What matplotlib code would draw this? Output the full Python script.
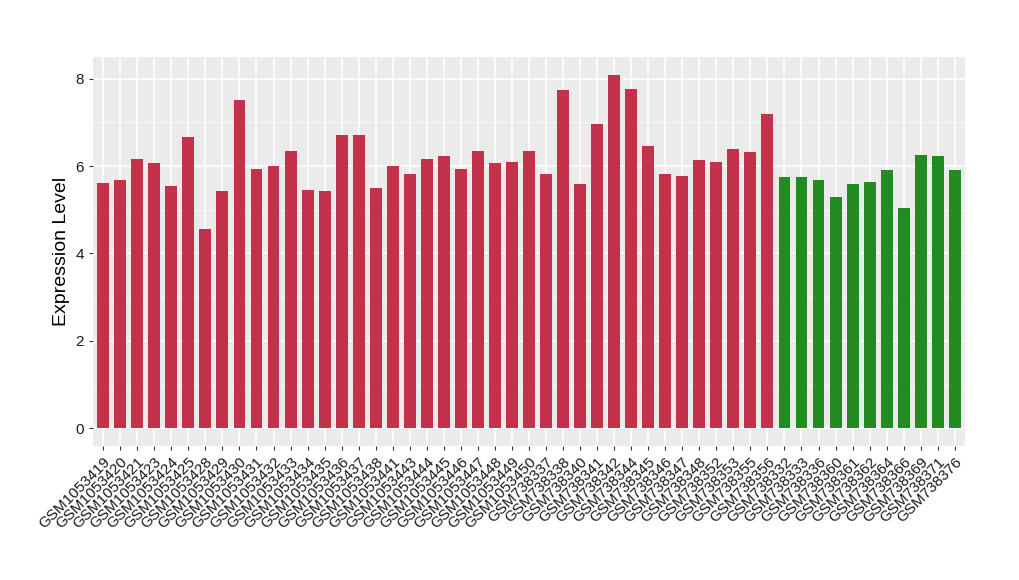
import matplotlib
matplotlib.use('Agg')
from matplotlib import pyplot as plt

plt.rcParams['font.family'] = ['Liberation Sans', 'DejaVu Sans']

red_samples = ['GSM1053419', 'GSM1053420', 'GSM1053421', 'GSM1053423', 'GSM1053424',
               'GSM1053425', 'GSM1053428', 'GSM1053429', 'GSM1053430', 'GSM1053431',
               'GSM1053432', 'GSM1053433', 'GSM1053434', 'GSM1053435', 'GSM1053436',
               'GSM1053437', 'GSM1053438', 'GSM1053441', 'GSM1053443', 'GSM1053444',
               'GSM1053445', 'GSM1053446', 'GSM1053447', 'GSM1053448', 'GSM1053449',
               'GSM1053450', 'GSM738337', 'GSM738338', 'GSM738340', 'GSM738341',
               'GSM738342', 'GSM738344', 'GSM738345', 'GSM738346', 'GSM738347',
               'GSM738348', 'GSM738352', 'GSM738353', 'GSM738355', 'GSM738356']
red_values = [5.62, 5.67, 6.15, 6.06, 5.55, 6.67, 4.55, 5.44, 7.50, 5.94,
              5.99, 6.35, 5.46, 5.42, 6.70, 6.72, 5.49, 6.01, 5.81, 6.15,
              6.22, 5.94, 6.35, 6.08, 6.10, 6.35, 5.81, 7.75, 5.58, 6.97,
              8.09, 7.77, 6.45, 5.81, 5.78, 6.13, 6.10, 6.40, 6.33, 7.18]

green_samples = ['GSM738332', 'GSM738333', 'GSM738336', 'GSM738360', 'GSM738361',
                 'GSM738362', 'GSM738364', 'GSM738366', 'GSM738369', 'GSM738371',
                 'GSM738376']
green_values = [5.74, 5.74, 5.69, 5.30, 5.58, 5.63, 5.92, 5.03, 6.26, 6.22, 5.90]

samples = red_samples + green_samples
values = red_values + green_values
colors = ['#C3324A'] * len(red_samples) + ['#228B22'] * len(green_samples)

fig = plt.figure(figsize=(10.2, 5.8), dpi=100)
ax = fig.add_axes([93 / 1020, 1 - 446 / 580, 872 / 1020, (446 - 57) / 580])
ax.set_facecolor('#EBEBEB')

x = list(range(len(samples)))
ax.bar(x, values, width=0.7, color=colors, zorder=3)

ymax = max(values)
ax.set_ylim(-0.05 * ymax, ymax * 1.05)
ax.set_xlim(-0.6, len(samples) - 0.4)
ax.set_yticks([0, 2, 4, 6, 8])
ax.set_yticks([1, 3, 5, 7], minor=True)
ax.set_xticks(x)
ax.set_xticklabels(samples, rotation=45, ha='right', rotation_mode='anchor', fontsize=11)
ax.tick_params(axis='y', labelsize=11, length=3, color='#333333', labelcolor='#1a1a1a')
ax.tick_params(axis='y', which='minor', length=0)
ax.tick_params(axis='x', length=3, color='#333333', labelcolor='#1a1a1a')
ax.grid(True, which='major', color='white', linewidth=1.1, zorder=0)
ax.grid(True, which='minor', axis='y', color='white', linewidth=0.5, zorder=0)
for s in ax.spines.values():
    s.set_visible(False)

ax.set_ylabel('Expression Level', fontsize=14)

fig.savefig('out.png', dpi=100)
